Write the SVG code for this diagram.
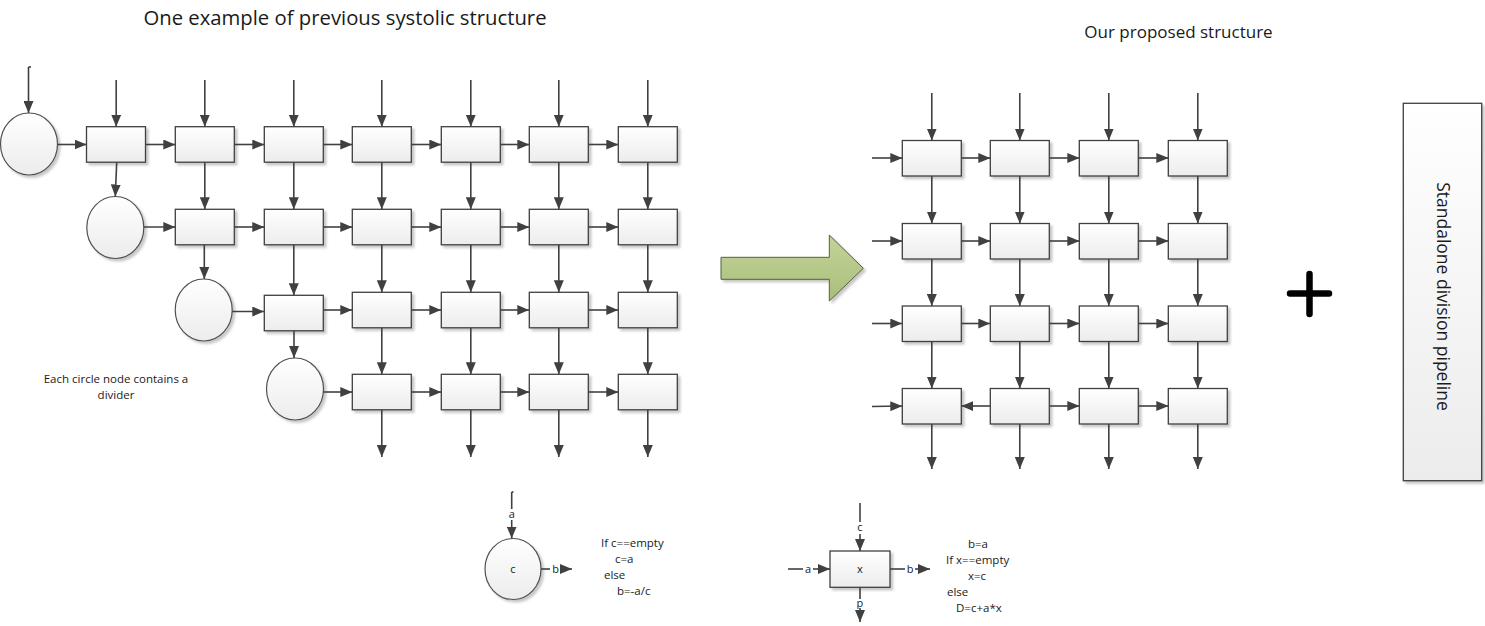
<svg xmlns="http://www.w3.org/2000/svg" width="1485" height="626" viewBox="0 0 1485 626">
<defs>
<linearGradient id="gBox" x1="0" y1="0" x2="0" y2="1">
<stop offset="0" stop-color="#ffffff"/><stop offset="1" stop-color="#ececec"/>
</linearGradient>
<linearGradient id="gGreen" x1="0" y1="0" x2="0" y2="1">
<stop offset="0" stop-color="#c2d398"/><stop offset="1" stop-color="#aabf7b"/>
</linearGradient>
<filter id="sh" x="-20%" y="-20%" width="140%" height="140%">
<feDropShadow dx="2.5" dy="2.5" stdDeviation="1" flood-color="#000" flood-opacity="0.22"/>
</filter>
<marker id="ah" markerUnits="userSpaceOnUse" markerWidth="12" markerHeight="10" refX="12" refY="5" orient="auto">
<path d="M0,0 L12,5 L0,10 z" fill="#404040"/>
</marker>
</defs>
<style>
.bx{fill:url(#gBox);stroke:#404040;stroke-width:1.3;filter:url(#sh)}
.cr{fill:url(#gBox);stroke:#505050;stroke-width:1.2;filter:url(#sh)}
.ln{stroke:#404040;stroke-width:1.6;fill:none;marker-end:url(#ah)}
.pl{stroke:#404040;stroke-width:1.6;fill:none}
.t{font-family:"Open Sans","Liberation Sans",sans-serif;fill:#1a1a1a}
.s{font-size:11.5px}
.lb{font-family:"Open Sans","Liberation Sans",sans-serif;font-size:11px;fill:#1a1a1a;text-anchor:middle}
</style>
<rect width="1485" height="626" fill="#ffffff"/>

<text class="t" x="345" y="25" font-size="20.3" text-anchor="middle">One example of previous systolic structure</text>
<text class="t" x="1178.5" y="38" font-size="17" text-anchor="middle">Our proposed structure</text>
<text class="t s" x="116" y="383" text-anchor="middle">Each circle node contains a</text>
<text class="t s" x="116" y="399" text-anchor="middle">divider</text>

<!-- left grid nodes -->
<g id="left-circle-1"><ellipse class="cr" cx="29" cy="144" rx="28.5" ry="31"/></g>
<g id="left-circle-2"><ellipse class="cr" cx="115.3" cy="227.5" rx="28.5" ry="31"/></g>
<g id="left-circle-3"><ellipse class="cr" cx="203.7" cy="310" rx="28.5" ry="31"/></g>
<g id="left-circle-4"><ellipse class="cr" cx="295" cy="389" rx="28.5" ry="31"/></g>

<g id="left-r1-c1"><rect class="bx" x="86.5" y="126.7" width="59" height="35.5"/></g>
<g id="left-r1-c2"><rect class="bx" x="175.3" y="126.7" width="59" height="35.5"/></g>
<g id="left-r1-c3"><rect class="bx" x="264.3" y="126.7" width="59" height="35.5"/></g>
<g id="left-r1-c4"><rect class="bx" x="352.3" y="126.7" width="59" height="35.5"/></g>
<g id="left-r1-c5"><rect class="bx" x="441.3" y="126.7" width="59" height="35.5"/></g>
<g id="left-r1-c6"><rect class="bx" x="529.3" y="126.7" width="59" height="35.5"/></g>
<g id="left-r1-c7"><rect class="bx" x="618.3" y="126.7" width="59" height="35.5"/></g>

<g id="left-r2-c2"><rect class="bx" x="175.3" y="209.3" width="59" height="35.5"/></g>
<g id="left-r2-c3"><rect class="bx" x="264.3" y="209.3" width="59" height="35.5"/></g>
<g id="left-r2-c4"><rect class="bx" x="352.3" y="209.3" width="59" height="35.5"/></g>
<g id="left-r2-c5"><rect class="bx" x="441.3" y="209.3" width="59" height="35.5"/></g>
<g id="left-r2-c6"><rect class="bx" x="529.3" y="209.3" width="59" height="35.5"/></g>
<g id="left-r2-c7"><rect class="bx" x="618.3" y="209.3" width="59" height="35.5"/></g>

<g id="left-r3-c3"><rect class="bx" x="264.3" y="295.3" width="59" height="35.5"/></g>
<g id="left-r3-c4"><rect class="bx" x="352.3" y="292.3" width="59" height="35.5"/></g>
<g id="left-r3-c5"><rect class="bx" x="441.3" y="292.3" width="59" height="35.5"/></g>
<g id="left-r3-c6"><rect class="bx" x="529.3" y="292.3" width="59" height="35.5"/></g>
<g id="left-r3-c7"><rect class="bx" x="618.3" y="292.3" width="59" height="35.5"/></g>

<g id="left-r4-c4"><rect class="bx" x="352.3" y="374.3" width="59" height="35.5"/></g>
<g id="left-r4-c5"><rect class="bx" x="441.3" y="374.3" width="59" height="35.5"/></g>
<g id="left-r4-c6"><rect class="bx" x="529.3" y="374.3" width="59" height="35.5"/></g>
<g id="left-r4-c7"><rect class="bx" x="618.3" y="374.3" width="59" height="35.5"/></g>

<!-- big arrow -->
<g id="big-arrow">
<path d="M721,257.3 L829.3,257.3 L829.3,235 L863.3,268.3 L829.3,301 L829.3,279.3 L721,279.3 Z" fill="url(#gGreen)" stroke="#55603f" stroke-width="1" filter="url(#sh)"/>
</g>

<!-- right grid nodes -->
<g id="right-r1-c1"><rect class="bx" x="902.3" y="140.5" width="59" height="35.5"/></g>
<g id="right-r1-c2"><rect class="bx" x="990.3" y="140.5" width="59" height="35.5"/></g>
<g id="right-r1-c3"><rect class="bx" x="1079.3" y="140.5" width="59" height="35.5"/></g>
<g id="right-r1-c4"><rect class="bx" x="1168.3" y="140.5" width="59" height="35.5"/></g>
<g id="right-r2-c1"><rect class="bx" x="902.3" y="223.5" width="59" height="35.5"/></g>
<g id="right-r2-c2"><rect class="bx" x="990.3" y="223.5" width="59" height="35.5"/></g>
<g id="right-r2-c3"><rect class="bx" x="1079.3" y="223.5" width="59" height="35.5"/></g>
<g id="right-r2-c4"><rect class="bx" x="1168.3" y="223.5" width="59" height="35.5"/></g>
<g id="right-r3-c1"><rect class="bx" x="902.3" y="306" width="59" height="35.5"/></g>
<g id="right-r3-c2"><rect class="bx" x="990.3" y="306" width="59" height="35.5"/></g>
<g id="right-r3-c3"><rect class="bx" x="1079.3" y="306" width="59" height="35.5"/></g>
<g id="right-r3-c4"><rect class="bx" x="1168.3" y="306" width="59" height="35.5"/></g>
<g id="right-r4-c1"><rect class="bx" x="902.3" y="388.5" width="59" height="35.5"/></g>
<g id="right-r4-c2"><rect class="bx" x="990.3" y="388.5" width="59" height="35.5"/></g>
<g id="right-r4-c3"><rect class="bx" x="1079.3" y="388.5" width="59" height="35.5"/></g>
<g id="right-r4-c4"><rect class="bx" x="1168.3" y="388.5" width="59" height="35.5"/></g>

<!-- plus -->
<g id="plus">
<path d="M1290,293.5 H1329 M1309.5,274 V314" stroke="#000" stroke-width="6.5" stroke-linecap="round"/>
</g>

<!-- standalone division pipeline -->
<g id="division-pipeline">
<rect class="bx" x="1403.3" y="103.3" width="78.4" height="377.4"/>
<text class="t" x="0" y="0" font-size="17.5" text-anchor="middle" transform="translate(1436.5,296.5) rotate(90)">Standalone division pipeline</text>
</g>

<!-- legend circle -->
<g id="legend-circle">
<ellipse class="cr" cx="513" cy="569" rx="28" ry="30.5"/>
<text class="lb" x="513" y="573">c</text>
</g>
<g id="legend-box">
<rect class="bx" x="830" y="551" width="60" height="36.3"/>
<text class="lb" x="860" y="573">x</text>
</g>

<g id="legend-text-circle" class="t s">
<text x="601" y="547">If c==empty</text>
<text x="615" y="563">c=a</text>
<text x="604" y="579">else</text>
<text x="617" y="595">b=-a/c</text>
</g>
<g id="legend-text-box" class="t s">
<text x="968" y="548">b=a</text>
<text x="946" y="564">If x==empty</text>
<text x="968" y="580">x=c</text>
<text x="947" y="596">else</text>
<text x="956" y="612">D=c+a*x</text>
</g>

<g id="connectors">
<!-- left: top inputs -->
<path class="pl" d="M28.5,67 H31"/>
<path class="ln" d="M28.5,67 V113"/>
<path class="ln" d="M116.2,80 V126.7"/>
<path class="ln" d="M204.8,80 V126.7"/>
<path class="ln" d="M293.8,80 V126.7"/>
<path class="ln" d="M381.8,80 V126.7"/>
<path class="ln" d="M470.8,80 V126.7"/>
<path class="ln" d="M558.8,80 V126.7"/>
<path class="ln" d="M647.8,80 V126.7"/>
<!-- left row1 horizontal -->
<path class="ln" d="M57.5,144.5 H86.5"/>
<path class="ln" d="M145.5,144.5 H175.3"/>
<path class="ln" d="M234.3,144.5 H264.3"/>
<path class="ln" d="M323.3,144.5 H352.3"/>
<path class="ln" d="M411.3,144.5 H441.3"/>
<path class="ln" d="M500.3,144.5 H529.3"/>
<path class="ln" d="M588.3,144.5 H618.3"/>
<!-- row2 horizontal -->
<path class="ln" d="M143.8,227 H175.3"/>
<path class="ln" d="M234.3,227 H264.3"/>
<path class="ln" d="M323.3,227 H352.3"/>
<path class="ln" d="M411.3,227 H441.3"/>
<path class="ln" d="M500.3,227 H529.3"/>
<path class="ln" d="M588.3,227 H618.3"/>
<!-- row3 horizontal -->
<path class="ln" d="M232.2,311.5 H264.3"/>
<path class="ln" d="M323.3,310 H352.3"/>
<path class="ln" d="M411.3,310 H441.3"/>
<path class="ln" d="M500.3,310 H529.3"/>
<path class="ln" d="M588.3,310 H618.3"/>
<!-- row4 horizontal -->
<path class="ln" d="M323.5,392 H352.3"/>
<path class="ln" d="M411.3,392 H441.3"/>
<path class="ln" d="M500.3,392 H529.3"/>
<path class="ln" d="M588.3,392 H618.3"/>
<!-- left verticals -->
<path class="ln" d="M116.7,162.2 L115.3,196.5"/>
<path class="ln" d="M204.8,162.2 V209.3"/>
<path class="ln" d="M293.8,162.2 V209.3"/>
<path class="ln" d="M381.8,162.2 V209.3"/>
<path class="ln" d="M470.8,162.2 V209.3"/>
<path class="ln" d="M558.8,162.2 V209.3"/>
<path class="ln" d="M647.8,162.2 V209.3"/>
<path class="ln" d="M204.3,244.8 V279"/>
<path class="ln" d="M293.8,244.8 V295.3"/>
<path class="ln" d="M381.8,244.8 V292.3"/>
<path class="ln" d="M470.8,244.8 V292.3"/>
<path class="ln" d="M558.8,244.8 V292.3"/>
<path class="ln" d="M647.8,244.8 V292.3"/>
<path class="ln" d="M294,330.8 V358"/>
<path class="ln" d="M381.8,327.8 V374.3"/>
<path class="ln" d="M470.8,327.8 V374.3"/>
<path class="ln" d="M558.8,327.8 V374.3"/>
<path class="ln" d="M647.8,327.8 V374.3"/>
<path class="ln" d="M381.8,409.8 V457"/>
<path class="ln" d="M470.8,409.8 V457"/>
<path class="ln" d="M558.8,409.8 V457"/>
<path class="ln" d="M647.8,409.8 V457"/>

<!-- right grid -->
<path class="ln" d="M931.8,93 V140.5"/>
<path class="ln" d="M1019.8,93 V140.5"/>
<path class="ln" d="M1108.8,93 V140.5"/>
<path class="ln" d="M1197.8,93 V140.5"/>
<path class="ln" d="M931.8,176 V223.5"/>
<path class="ln" d="M1019.8,176 V223.5"/>
<path class="ln" d="M1108.8,176 V223.5"/>
<path class="ln" d="M1197.8,176 V223.5"/>
<path class="ln" d="M931.8,259 V306"/>
<path class="ln" d="M1019.8,259 V306"/>
<path class="ln" d="M1108.8,259 V306"/>
<path class="ln" d="M1197.8,259 V306"/>
<path class="ln" d="M931.8,341.5 V388.5"/>
<path class="ln" d="M1019.8,341.5 V388.5"/>
<path class="ln" d="M1108.8,341.5 V388.5"/>
<path class="ln" d="M1197.8,341.5 V388.5"/>
<path class="ln" d="M931.8,424 V469"/>
<path class="ln" d="M1019.8,424 V469"/>
<path class="ln" d="M1108.8,424 V469"/>
<path class="ln" d="M1197.8,424 V469"/>
<path class="ln" d="M872,158 H902.3"/>
<path class="ln" d="M961.3,158 H990.3"/>
<path class="ln" d="M1049.3,158 H1079.3"/>
<path class="ln" d="M1138.3,158 H1168.3"/>
<path class="ln" d="M872,241 H902.3"/>
<path class="ln" d="M961.3,241 H990.3"/>
<path class="ln" d="M1049.3,241 H1079.3"/>
<path class="ln" d="M1138.3,241 H1168.3"/>
<path class="ln" d="M872,323.5 H902.3"/>
<path class="ln" d="M961.3,323.5 H990.3"/>
<path class="ln" d="M1049.3,323.5 H1079.3"/>
<path class="ln" d="M1138.3,323.5 H1168.3"/>
<path class="ln" d="M872,406.5 L902.3,406"/>
<path class="ln" d="M990.3,406 H961.3" stroke-width="2.4"/>
<path class="ln" d="M1049.3,406 H1079.3"/>
<path class="ln" d="M1138.3,406 H1168.3"/>

<!-- legend connectors -->
<path class="pl" d="M511.7,492 H513.5"/>
<path class="pl" d="M511.7,492 V509"/>
<path class="ln" d="M511.7,520 V538.5"/>
<text class="lb" x="511.7" y="518">a</text>
<path class="pl" d="M541,569 H550"/>
<text class="lb" x="555.5" y="572.5">b</text>
<path class="ln" d="M560,569 H572"/>

<path class="pl" d="M860,503 V522"/>
<text class="lb" x="860" y="531">c</text>
<path class="ln" d="M860,534 V551"/>
<path class="pl" d="M788,569 H803"/>
<text class="lb" x="808" y="572.5">a</text>
<path class="ln" d="M813,569 H830"/>
<path class="pl" d="M890,569 H905"/>
<text class="lb" x="910" y="572.5">b</text>
<path class="ln" d="M915,569 H930"/>
<path class="pl" d="M860,587.3 V599"/>
<text class="lb" transform="translate(860,600.5) rotate(180)" x="0" y="0">d</text>
<path class="ln" d="M860,608 V622"/>
</g>
</svg>
